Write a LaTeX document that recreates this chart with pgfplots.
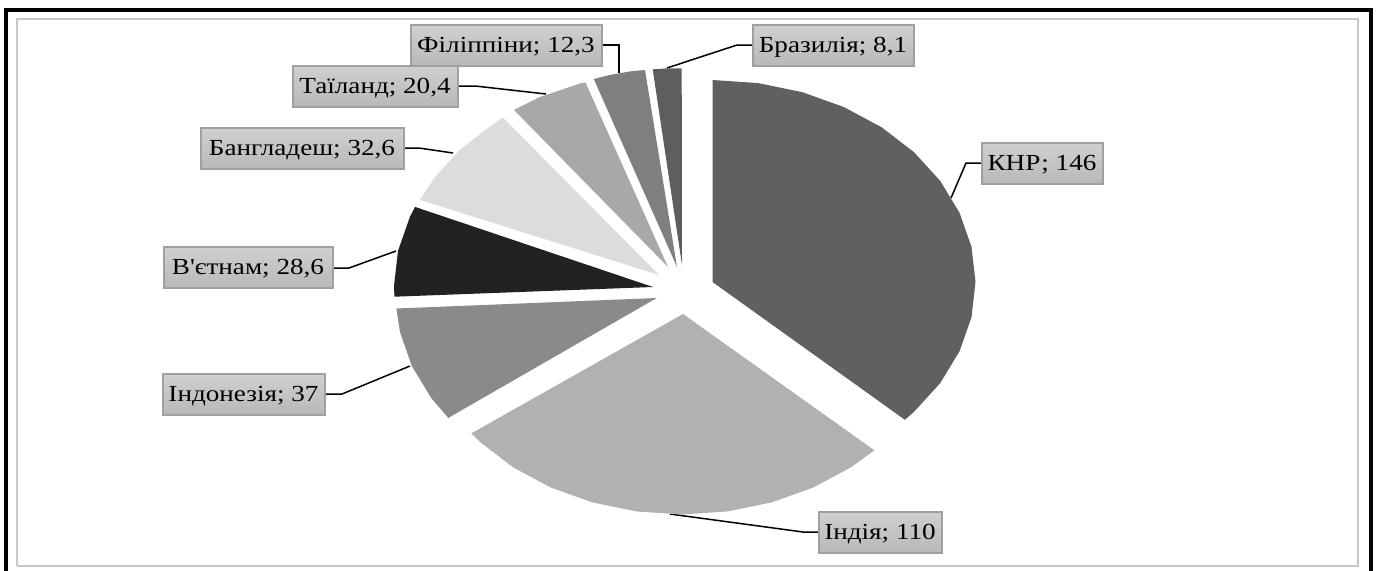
\documentclass[border=0pt]{standalone}
\usepackage{pgfplots}
\pgfplotsset{compat=1.18}
\usepackage{fontspec}
\setmainfont[FakeStretch=1.18,Ligatures=TeXOff]{Liberation Serif}
\definecolor{boxtop}{HTML}{D0D0D0}
\definecolor{boxbot}{HTML}{B8B8B8}
\definecolor{boxline}{HTML}{A0A0A0}
\definecolor{frameg}{HTML}{C8C8C8}
\definecolor{s1}{HTML}{606060}
\definecolor{s2}{HTML}{B1B1B1}
\definecolor{s3}{HTML}{8A8A8A}
\definecolor{s4}{HTML}{222222}
\definecolor{s5}{HTML}{DCDCDC}
\definecolor{s6}{HTML}{A8A8A8}
\definecolor{s7}{HTML}{7F7F7F}
\definecolor{s8}{HTML}{5E5E5E}
\tikzset{lbl/.style={draw=boxline,line width=2pt,top color=boxtop,bottom color=boxbot,
  inner sep=0pt,anchor=center,text=black,font=\fontsize{23}{26}\selectfont,
  minimum height=41pt,text height=14pt,text depth=0pt}}
\pgfplotsset{slice/.style={draw=none,fill=#1,forget plot},
  lead/.style={black,line width=1.5pt,forget plot}}
\begin{document}
\begin{tikzpicture}
\path[use as bounding box] (0,0) rectangle (1378pt,570pt);
\begin{axis}[at={(0,0)},anchor=south west,width=1378pt,height=570pt,scale only axis,
  xmin=0,xmax=1378,ymin=0,ymax=570,y dir=reverse,hide axis,clip=true]
% frame
\addplot[black,line width=4pt,forget plot] coordinates {(6,575) (6,10) (1371,10) (1371,575)};
\addplot[frameg,line width=2pt,forget plot] coordinates {(17,566) (17,19) (1358,19) (1358,566) (17,566)};
% leaders
\addplot[lead] coordinates {(951,198) (966,163) (981,163)};
\addplot[lead] coordinates {(670,514) (803,532) (818,532)};
\addplot[lead] coordinates {(410,366) (342,394) (325,394)};
\addplot[lead] coordinates {(396,251) (349,268) (333,268)};
\addplot[lead] coordinates {(453,153) (419,148) (404,148)};
\addplot[lead] coordinates {(546,94) (475,86) (458,86)};
\addplot[lead] coordinates {(619,72.7) (619,45) (602,45)};
\addplot[lead] coordinates {(667,68) (737,45) (752,45)};
% slices
\addplot[slice=s1] coordinates {(712.5,282) (712.5,80) (758.2,83.1) (802.4,92.2) (844,107.1) (881.6,127.3) (914,152.2) (940.3,181) (959.6,212.9) (971.5,246.9) (975.5,282) (971.5,317.1) (959.6,351.1) (940.3,383) (914,411.8) (904.9,419.8)};
\addplot[slice=s2] coordinates {(683,314) (874.4,450.3) (851.1,467.2) (813.5,487.4) (771.9,502.3) (727.7,511.4) (682,514.5) (636.3,511.4) (592.1,502.3) (550.5,487.4) (512.9,467.2) (480.5,442.3) (471.3,433.4)};
\addplot[slice=s3] coordinates {(656.7,298) (448.3,417.9) (431.2,398) (411.9,366.1) (400,332.1) (396.4,308.5)};
\addplot[slice=s4] coordinates {(653,287) (394.4,296.7) (394,286) (398,250.9) (409.9,216.9) (415,206.9)};
\addplot[slice=s5] coordinates {(659,275) (420,199.9) (434.2,178) (460.5,149.2) (492.9,124.3) (502.8,117.5)};
\addplot[slice=s6] coordinates {(668,267) (514,110) (539.5,97.1) (581.1,83.2) (585.5,82.5)};
\addplot[slice=s7] coordinates {(677,267) (593.8,79) (609.9,74.9) (632.3,71.1) (645,70)};
\addplot[slice=s8] coordinates {(682,265) (652.7,69.3) (667,68.4) (681.7,68.3)};
% labels
\node[lbl,minimum width=165pt] at (axis cs:375,86) {Таїланд; 20,4};
\node[lbl,minimum width=191pt] at (axis cs:506,45.5) {Філіппіни; 12,3};
\node[lbl,minimum width=161pt] at (axis cs:833,45.5) {Бразилія; 8,1};
\node[lbl,minimum width=203pt] at (axis cs:302,148.5) {Бангладеш; 32,6};
\node[lbl,minimum width=169pt] at (axis cs:248,267.5) {В'єтнам; 28,6};
\node[lbl,minimum width=162pt] at (axis cs:243.5,394) {Індонезія; 37};
\node[lbl,minimum width=123pt] at (axis cs:880,532) {Індія; 110};
\node[lbl,minimum width=121pt] at (axis cs:1042,163.5) {КНР; 146};
\end{axis}
\end{tikzpicture}
\end{document}
